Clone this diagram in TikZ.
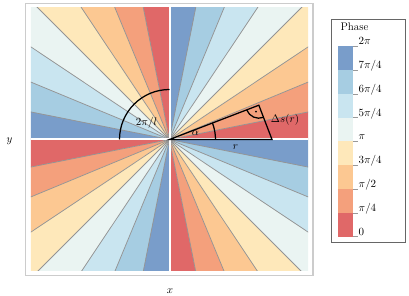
\documentclass[tikz,border=0pt]{standalone}
\usetikzlibrary{calc}

\definecolor{ph0}{RGB}{224,104,104}
\definecolor{ph1}{RGB}{244,160,124}
\definecolor{ph2}{RGB}{252,200,146}
\definecolor{ph3}{RGB}{254,232,186}
\definecolor{ph4}{RGB}{234,244,242}
\definecolor{ph5}{RGB}{201,229,240}
\definecolor{ph6}{RGB}{166,205,226}
\definecolor{ph7}{RGB}{121,157,202}

\begin{document}
\begin{tikzpicture}[x=1pt,y=1pt,line width=1.25pt,
    every node/.style={font=\fontsize{11}{13}\selectfont},
    contour/.style={black!42, line width=0.75pt},
    tick/.style={black!40, line width=0.5pt}]
    \useasboundingbox (-169.5,-156.5) rectangle (239.5,139.5);
    % frame of the plot
    \draw[black!20, line width=1.2pt] (-144,-136) rectangle (143.5,136);
    % phase sectors, l = 4
    \begin{scope}
        \clip (-138.5,-131.5) rectangle (138.5,131.5);
        \foreach \q in {0,...,3} {
            \foreach \k in {0,...,7}
                \fill[ph\k] (0,0) -- (90*\q+11.25*\k:300) -- (90*\q+11.25*\k+11.25:300) -- cycle;
            \foreach \k in {1,...,7}
                \draw[contour] (0,0) -- (90*\q+11.25*\k:300);
        }
        \draw[white, line width=2pt] (-140,0) -- (140,0);
        \draw[white, line width=2pt] (0,-135) -- (0,135);
    \end{scope}
    % annotations
    \coordinate (O) at (0,0);
    \coordinate (A) at (102.5,0);
    \coordinate (C) at (21:95.7);
    \coordinate (T) at (0,50);
    \draw (T) arc[start angle=90, end angle=180, radius=50];
    \node (period) at (-23,17.2) {$2\pi/l$};
    \draw (O) -- (A) -- (C) -- cycle;
    \draw (46,0) arc[start angle=0, end angle=21, radius=46];
    \node (alpha) at (26,6) {$\alpha$};
    \draw ($(C)+(201:13)$) arc[start angle=201, end angle=291, radius=13];
    \fill ($(C)+(246:7)$) circle (1pt);
    \node (rlab) at (66,-7.5) {$r$};
    \node (ds) at (115.5,19.5) {$\Delta s(r)$};
    % axis labels
    \node (ylab) at (-160,-1.5) {$y$};
    \node (xlab) at (0.5,-151.5) {$x$};
    % legend
    \node (legend) [draw=black!60, line width=0.8pt, minimum width=74.5, minimum height=223, inner sep=0] at (198.75,9) {};
    \node (title) [anchor=west, inner sep=0] at (170.5,112.5) {Phase};
    \foreach \k in {0,...,7}
        \fill[ph\k] (168.8,{-97.2+23.8*\k}) rectangle (183.8,{-97.2+23.8*(\k+1)});
    \foreach \lab [count=\k from 0] in {0,\pi/4,\pi/2,3\pi/4,\pi,5\pi/4,6\pi/4,7\pi/4,2\pi} {
        \draw[tick] (183.8,{-97.2+23.8*\k}) -- (188,{-97.2+23.8*\k});
        \node (lab\k) [anchor=base west, inner sep=0] at (188.5,{-97.2+23.8*\k+1.6}) {$\lab$};
    }
\end{tikzpicture}
\end{document}
